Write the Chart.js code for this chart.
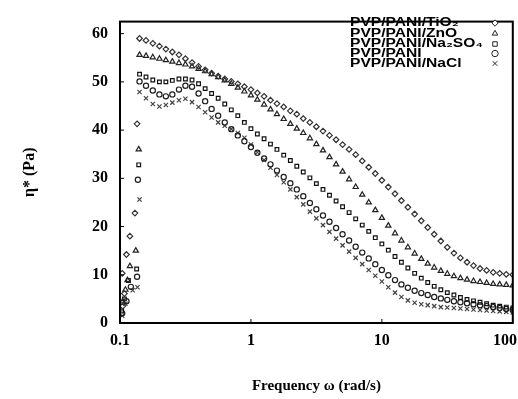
<!DOCTYPE html>
<html>
<head>
<meta charset="utf-8">
<script src="https://cdn.jsdelivr.net/npm/chart.js@4.4.1/dist/chart.umd.min.js"></script>
<style>
  html, body { margin: 0; padding: 0; background: #fff; }
  #wrap { width: 518px; height: 399px; }
</style>
</head>
<body>
<div id="wrap"><canvas id="etaChart"></canvas></div>
<script>
// frequency sweep (rad/s)
const freq = [0.141, 0.158, 0.178, 0.2, 0.224, 0.251, 0.282, 0.316, 0.355, 0.398, 0.447, 0.501, 0.562, 0.631, 0.708, 0.794, 0.891,
    1, 1.12, 1.26, 1.41, 1.58, 1.78, 2, 2.24, 2.51, 2.82, 3.16, 3.55, 3.98, 4.47, 5.01, 5.62, 6.31, 7.08, 7.94, 8.91,
    10, 11.2, 12.6, 14.1, 15.8, 17.8, 20, 22.4, 25.1, 28.2, 31.6, 35.5, 39.8, 44.7, 50.1, 56.2, 63.1, 70.8, 79.4, 89.1, 100];

// complex viscosity (Pa)
const etaTiO2 = [59.0, 58.6, 58.0, 57.4, 56.8, 56.2, 55.6, 54.8, 54.0, 53.2, 52.5, 51.8, 51.2, 50.6, 50.1, 49.6, 49.0,
    48.4, 47.7, 47.0, 46.2, 45.5, 44.8, 44.0, 43.3, 42.4, 41.6, 40.7, 39.8, 38.9, 38.0, 37.0, 36.0, 34.9, 33.6, 32.3, 31.0,
    29.6, 28.2, 26.8, 25.4, 24.0, 22.6, 21.2, 19.8, 18.4, 17.0, 15.7, 14.5, 13.5, 12.6, 11.9, 11.3, 10.9, 10.5, 10.3, 10.1, 10.0];
const etaZnO = [55.6, 55.4, 55.1, 54.8, 54.5, 54.2, 53.9, 53.6, 53.2, 52.7, 52.2, 51.6, 51.0, 50.3, 49.6, 48.8, 48.0,
    47.2, 46.3, 45.3, 44.3, 43.3, 42.3, 41.3, 40.3, 39.4, 38.3, 37.1, 35.8, 34.4, 32.9, 31.4, 29.8, 28.2, 26.6, 25.0, 23.4,
    21.8, 20.2, 18.6, 17.1, 15.7, 14.4, 13.3, 12.3, 11.5, 10.8, 10.2, 9.7, 9.3, 9.0, 8.7, 8.5, 8.3, 8.1, 8.0, 7.9, 7.8];
const etaNa2SO4 = [51.6, 51.0, 50.4, 50.0, 50.0, 50.3, 50.6, 50.6, 50.4, 49.6, 48.6, 47.6, 46.6, 45.4, 44.2, 43.0, 41.6,
    40.3, 39.2, 38.2, 37.1, 36.0, 34.8, 33.7, 32.5, 31.3, 30.1, 28.9, 27.7, 26.5, 25.3, 24.1, 22.9, 21.6, 20.3, 19.0, 17.7,
    16.4, 15.1, 13.8, 12.6, 11.4, 10.3, 9.3, 8.4, 7.6, 6.9, 6.3, 5.8, 5.3, 4.9, 4.6, 4.3, 4.0, 3.7, 3.5, 3.3, 3.1];
const etaPani = [50.1, 49.2, 48.2, 47.4, 47.0, 47.4, 48.4, 49.2, 49.0, 47.6, 46.0, 44.4, 43.0, 41.6, 40.2, 38.9, 37.7,
    36.5, 35.3, 34.1, 32.9, 31.6, 30.3, 29.0, 27.7, 26.3, 24.9, 23.6, 22.3, 21.0, 19.7, 18.4, 17.1, 15.8, 14.6, 13.4, 12.2,
    11.0, 9.9, 8.9, 8.0, 7.3, 6.7, 6.2, 5.8, 5.4, 5.1, 4.8, 4.5, 4.3, 4.1, 3.9, 3.7, 3.5, 3.3, 3.1, 2.9, 2.7];
const etaNaCl = [47.9, 46.6, 45.4, 44.9, 45.2, 45.7, 46.2, 46.5, 45.8, 44.8, 43.7, 42.6, 41.6, 40.9, 40.2, 39.4, 38.4,
    37.0, 35.4, 33.8, 32.2, 30.7, 29.2, 27.7, 26.1, 24.6, 23.1, 21.7, 20.3, 18.9, 17.5, 16.1, 14.8, 13.5, 12.2, 11.0, 9.8,
    8.6, 7.4, 6.3, 5.4, 4.7, 4.2, 3.9, 3.7, 3.5, 3.3, 3.2, 3.1, 3.0, 2.9, 2.8, 2.7, 2.6, 2.5, 2.4, 2.3, 2.2];

// start-up points below 0.14 rad/s
const startTiO2 = [[0.105, 3.5], [0.104, 10.3], [0.108, 6.1], [0.112, 14.2], [0.119, 18.0], [0.130, 22.8], [0.135, 41.3]];
const startZnO = [[0.105, 4.5], [0.110, 6.9], [0.114, 8.9], [0.119, 11.8], [0.132, 15.0], [0.139, 36.0]];
const startNa2SO4 = [[0.103, 2.5], [0.108, 5.0], [0.116, 8.8], [0.134, 11.2], [0.139, 32.8]];
const startPani = [[0.104, 2.0], [0.112, 4.5], [0.121, 7.5], [0.135, 9.6], [0.137, 29.7]];
const startNaCl = [[0.104, 1.5], [0.110, 4.0], [0.125, 6.8], [0.136, 7.4], [0.141, 25.6]];

const labels = ['PVP/PANI/TiO₂', 'PVP/PANI/ZnO', 'PVP/PANI/Na₂SO₄', 'PVP/PANI', 'PVP/PANI/NaCl'];
const xTicks = [0.1, 1, 10, 100];
const yTicks = [0, 10, 20, 30, 40, 50, 60];

const serif = '"Liberation Serif", "Times New Roman", serif';

function toPoints(start, values) {
    return start.map(p => ({ x: p[0], y: p[1] })).concat(values.map((v, i) => ({ x: freq[i], y: v })));
}

const series = [
    { start: startTiO2, values: etaTiO2, style: 'rectRot', color: '#333', radius: 2.8 },
    { start: startZnO, values: etaZnO, style: 'triangle', color: '#222', radius: 3 },
    { start: startNa2SO4, values: etaNa2SO4, style: 'rect', color: '#111', radius: 2.6 },
    { start: startPani, values: etaPani, style: 'circle', color: '#1e1e1e', radius: 2.6 },
    { start: startNaCl, values: etaNaCl, style: 'crossRot', color: '#444', radius: 3 }
];

// frame, inward ticks and x tick labels (kept inside the canvas)
const framePlugin = {
    id: 'frame',
    afterDraw(chart) {
        const a = chart.chartArea;
        const ctx = chart.ctx;
        ctx.save();
        ctx.strokeStyle = '#000';
        ctx.lineWidth = 2;
        ctx.strokeRect(a.left, a.top, a.right - a.left, a.bottom - a.top);
        ctx.lineWidth = 1;
        const ys = chart.scales.y;
        yTicks.forEach(t => {
            const py = ys.getPixelForValue(t);
            ctx.beginPath(); ctx.moveTo(a.left, py); ctx.lineTo(a.left + 4, py); ctx.stroke();
        });
        const xs = chart.scales.x;
        ctx.font = 'bold 16px ' + serif;
        ctx.fillStyle = '#000';
        ctx.textAlign = 'center';
        ctx.textBaseline = 'middle';
        xTicks.forEach(t => {
            const px = xs.getPixelForValue(t);
            ctx.beginPath(); ctx.moveTo(px, a.bottom); ctx.lineTo(px, a.bottom - 4); ctx.stroke();
            const label = String(t);
            const w = ctx.measureText(label).width;
            const cx = Math.min(px, chart.width - w / 2 - 1);
            ctx.fillText(label, cx, a.bottom + 18);
        });
        ctx.restore();
    }
};

// legend: text first, symbol on the right
const legendPlugin = {
    id: 'sideLegend',
    afterDraw(chart) {
        const ctx = chart.ctx;
        const rowsY = [23, 33.5, 44, 53.5, 63.5];
        chart.data.datasets.forEach((ds, i) => {
            ctx.save();
            ctx.translate(350, rowsY[i]);
            ctx.scale(1.3, 1);
            ctx.font = 'bold 12px "Liberation Sans", Arial, sans-serif';
            ctx.fillStyle = '#000';
            ctx.textBaseline = 'middle';
            ctx.textAlign = 'left';
            ctx.fillText(ds.label, 0, 0);
            ctx.restore();
            ctx.save();
            ctx.strokeStyle = '#222';
            ctx.fillStyle = '#fff';
            ctx.lineWidth = 1;
            Chart.helpers.drawPoint(ctx, { pointStyle: ds.pointStyle, radius: 3.2, rotation: 0, borderWidth: 1 }, 495, rowsY[i]);
            ctx.restore();
        });
    }
};

const ctx = document.getElementById('etaChart').getContext('2d');
new Chart(ctx, {
    type: 'scatter',
    data: {
        datasets: series.map((s, i) => ({
            label: labels[i],
            data: toPoints(s.start, s.values),
            pointStyle: s.style,
            pointRadius: s.radius,
            pointBorderWidth: 1.2,
            borderColor: s.color,
            backgroundColor: 'rgba(255,255,255,0)',
            showLine: false
        }))
    },
    options: {
        responsive: true,
        maintainAspectRatio: false,
        animation: false,
        layout: { padding: { top: 17, right: 2, left: 20, bottom: 0 } },
        scales: {
            x: {
                type: 'logarithmic',
                min: 0.1,
                max: 100,
                afterBuildTicks: scale => { scale.ticks = xTicks.map(v => ({ value: v })); },
                afterFit: scale => { scale.height = 76; scale.paddingRight = 0; },
                grid: { display: false, drawTicks: false },
                border: { display: false },
                ticks: {
                    color: 'rgba(0,0,0,0)',
                    padding: 8,
                    font: { family: serif, size: 16, weight: 'bold' },
                    callback: v => String(v)
                },
                title: {
                    display: true,
                    text: 'Frequency ω (rad/s)',
                    color: '#000',
                    padding: { top: 22 },
                    font: { family: serif, size: 15, weight: 'bold' }
                }
            },
            y: {
                min: 0,
                max: 62.5,
                afterBuildTicks: scale => { scale.ticks = yTicks.map(v => ({ value: v })); },
                afterFit: scale => { scale.width = 100; },
                grid: { display: false, drawTicks: false },
                border: { display: false },
                ticks: {
                    color: '#000',
                    padding: 12,
                    font: { family: serif, size: 16, weight: 'bold' }
                },
                title: {
                    display: true,
                    text: 'η* (Pa)',
                    color: '#000',
                    padding: 0,
                    font: { family: serif, size: 16, weight: 'bold' }
                }
            }
        },
        plugins: {
            legend: { display: false },
            tooltip: { enabled: false }
        }
    },
    plugins: [framePlugin, legendPlugin]
});
</script>
</body>
</html>
